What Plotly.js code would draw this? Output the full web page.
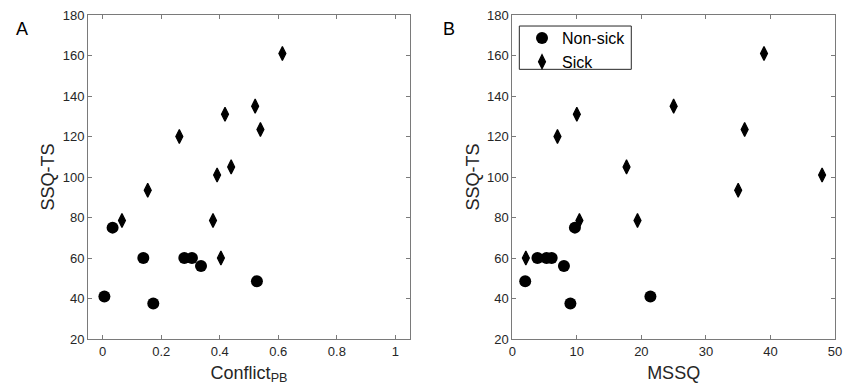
<!DOCTYPE html>
<html>
<head>
<meta charset="utf-8">
<script src="https://cdn.plot.ly/plotly-3.0.1.min.js"></script>
<style>
html,body{margin:0;padding:0;background:#fff;}
#chart{width:843px;height:390px;}
</style>
</head>
<body>
<div id="chart"></div>
<script>
// Non-sick participants
var nonsickSSQ      = [75, 41, 37.5, 48.5, 56, 60, 60, 60];
var nonsickConflict = [0.034, 0.006, 0.173, 0.527, 0.336, 0.139, 0.279, 0.305];
var nonsickMSSQ     = [9.7, 21.4, 9.0, 2.0, 8.0, 3.9, 5.3, 6.1];
// Sick participants
var sickSSQ      = [161, 131, 135, 123.5, 120, 101, 105, 93.5, 78.5, 78.5, 60];
var sickConflict = [0.614, 0.418, 0.521, 0.539, 0.262, 0.391, 0.439, 0.154, 0.066, 0.377, 0.404];
var sickMSSQ     = [39.0, 10.0, 25.0, 36.0, 7.0, 48.0, 17.7, 35.0, 10.4, 19.4, 2.1];

var xTicksA = [0, 0.2, 0.4, 0.6, 0.8, 1];
var xTickTextA = ['0', '0.2', '0.4', '0.6', '0.8', '1'];
var xTicksB = [0, 10, 20, 30, 40, 50];
var yTicks = [20, 40, 60, 80, 100, 120, 140, 160, 180];

var circ = {symbol: 'circle', size: 12, color: '#000'};
var diam = {symbol: 'diamond-tall', size: 10, color: '#000', line: {color: '#000', width: 1.2}};

var traces = [
  {x: nonsickConflict, y: nonsickSSQ, type: 'scatter', mode: 'markers', marker: circ,
   name: 'Non-sick', legendgroup: 'ns', showlegend: false, xaxis: 'x', yaxis: 'y'},
  {x: sickConflict, y: sickSSQ, type: 'scatter', mode: 'markers', marker: diam,
   name: 'Sick', legendgroup: 's', showlegend: false, xaxis: 'x', yaxis: 'y'},
  {x: nonsickMSSQ, y: nonsickSSQ, type: 'scatter', mode: 'markers', marker: circ,
   name: 'Non-sick', legendgroup: 'ns', showlegend: true, xaxis: 'x2', yaxis: 'y2'},
  {x: sickMSSQ, y: sickSSQ, type: 'scatter', mode: 'markers', marker: diam,
   name: 'Sick', legendgroup: 's', showlegend: true, xaxis: 'x2', yaxis: 'y2'}
];

var font = 'Liberation Sans, Arial, sans-serif';
var axCommon = {
  showgrid: false, zeroline: false, showline: true, linecolor: '#7a7a7a', linewidth: 1,
  mirror: 'ticks', ticks: 'inside', ticklen: 4, tickcolor: '#7a7a7a', tickwidth: 1,
  tickfont: {family: font, size: 13, color: '#262626'}
};
function ax(extra) { return Object.assign({}, axCommon, extra); }

var layout = {
  width: 843, height: 390,
  margin: {l: 88, r: 8, t: 15, b: 51.3},
  paper_bgcolor: '#fff', plot_bgcolor: '#fff',
  font: {family: font, color: '#262626'},
  showlegend: true,
  legend: {x: 0.581, y: 0.9815, xanchor: 'left', yanchor: 'top',
           bgcolor: 'rgba(0,0,0,0)', borderwidth: 0,
           font: {family: font, size: 16, color: '#000'}, tracegroupgap: 0},
  xaxis: ax({domain: [0, 0.4311], range: [-0.05, 1.05], tickvals: xTicksA, ticktext: xTickTextA,
             anchor: 'y', title: {text: 'Conflict<sub>PB</sub>', font: {family: font, size: 18, color: '#262626'}, standoff: 8}}),
  yaxis: ax({domain: [0, 1], range: [20, 180], tickvals: yTicks, anchor: 'x',
             title: {text: 'SSQ-TS', font: {family: font, size: 18, color: '#262626'}, standoff: 3}}),
  xaxis2: ax({domain: [0.568, 1], range: [0, 50], tickvals: xTicksB, anchor: 'y2',
              title: {text: 'MSSQ', font: {family: font, size: 18, color: '#262626'}, standoff: 8}}),
  yaxis2: ax({domain: [0, 1], range: [20, 180], tickvals: yTicks, anchor: 'x2',
              title: {text: 'SSQ-TS', font: {family: font, size: 18, color: '#262626'}, standoff: 2}}),
  shapes: [
    {type: 'rect', xref: 'paper', yref: 'paper', x0: 0.5774, x1: 0.7273, y0: 0.8323, y1: 0.966,
     line: {color: '#262626', width: 1}, fillcolor: 'rgba(0,0,0,0)', layer: 'above'}
  ],
  annotations: [
    {text: 'A', xref: 'paper', yref: 'paper', x: -0.0884, y: 0.9568, xanchor: 'center', yanchor: 'middle',
     showarrow: false, font: {family: font, size: 18, color: '#000'}},
    {text: 'B', xref: 'paper', yref: 'paper', x: 0.4833, y: 0.9568, xanchor: 'center', yanchor: 'middle',
     showarrow: false, font: {family: font, size: 18, color: '#000'}}
  ]
};

Plotly.newPlot('chart', traces, layout, {displayModeBar: false, staticPlot: true});
</script>
</body>
</html>
